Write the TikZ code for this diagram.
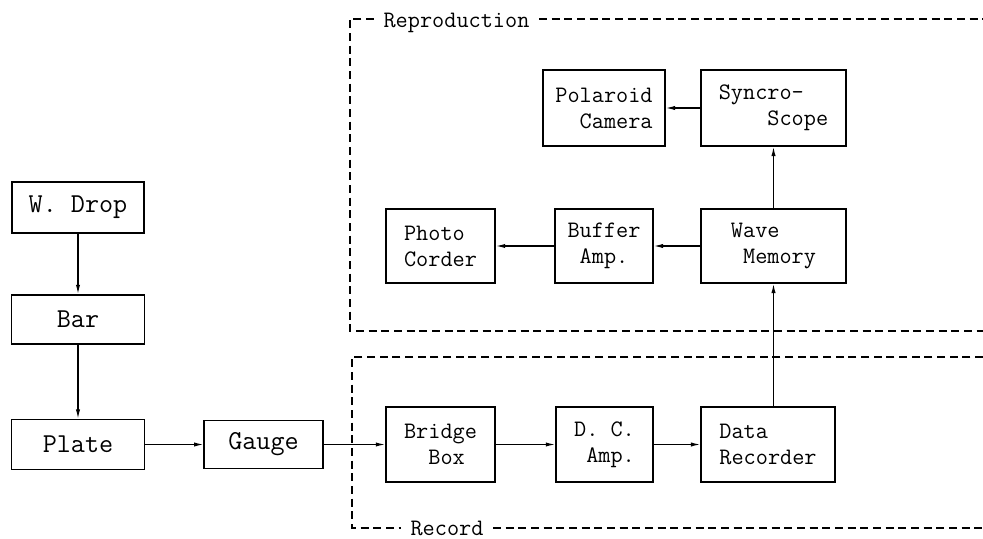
\documentclass[tikz,border=0pt]{standalone}
\usepackage{tikz}
\usetikzlibrary{arrows.meta}
\tikzset{
    block/.style = {draw, line width=1.1pt, inner sep=0pt, font=\ttfamily\fontsize{17.7}{19.5}\selectfont},
    bigblock/.style = {block, font=\ttfamily\fontsize{20.5}{22}\selectfont},
    conn/.style = {draw, line width=0.9pt, -{Latex[length=7pt,width=3.2pt]}},
    frame/.style = {draw, line width=1pt, dash pattern=on 6pt off 3.5pt},
    framelabel/.style = {inner sep=7pt, anchor=base, font=\ttfamily\fontsize{17.7}{19.5}\selectfont},
}

\begin{document}
\begin{tikzpicture}[x=0.75pt, y=-0.75pt]
            \useasboundingbox (0,0) rectangle (983,539);

            \node[bigblock, minimum width=99pt, minimum height=38pt] (wdrop) at (78, 207.5) {W. Drop};
            \node[bigblock, minimum width=100pt, minimum height=37pt] (bar) at (78, 319.5) {Bar};
            \node[bigblock, minimum width=100pt, minimum height=37.5pt] (plate) at (78, 444.5) {Plate};
            \node[bigblock, minimum width=89pt, minimum height=36pt] (gauge) at (263.5, 444.5) {Gauge};

            \node[block, align=left, minimum width=82pt, minimum height=56pt] (bridge) at (440.5, 444.5) {Bridge\\\hphantom{xx}Box};
            \node[block, align=right, minimum width=73pt, minimum height=56pt] (dcamp) at (604.5, 444.5) {D. C.\\Amp.};
            \node[block, align=left, minimum width=100.5pt, minimum height=56pt] (datarec) at (768, 444.5) {Data\\Recorder};

            \node[block, align=left, minimum width=82pt, minimum height=55.5pt] (photo) at (440.5, 246) {Photo\\Corder};
            \node[block, align=center, minimum width=73.5pt, minimum height=55.5pt] (buffer) at (604, 246) {Buffer\\Amp.};
            \node[block, align=left, minimum width=109pt, minimum height=55.5pt] (wave) at (773.5, 246) {Wave\\\hphantom{x}Memory};
            \node[block, align=right, minimum width=91.5pt, minimum height=57pt] (polaroid) at (604, 108) {Polaroid\\Camera};
            \node[block, align=left, minimum width=109pt, minimum height=57pt] (syncro) at (773.5, 108) {Syncro-\\\hphantom{xxxx}Scope};

            \node[framelabel] (repro) at (456.5, 27) {Reproduction};
            \coordinate (rtl) at (350, 19);
            \coordinate (rtr) at (983, 19);
            \coordinate (rbl) at (350, 331);
            \coordinate (rbr) at (983, 331);
            \draw[frame] (repro.west |- rtl) -- (rtl) -- (rbl) -- (rbr);
            \draw[frame] (repro.east |- rtr) -- (rtr);

            \node[framelabel] (rec) at (447, 535) {Record};
            \coordinate (ctl) at (352, 357);
            \coordinate (ctr) at (983, 357);
            \coordinate (cbl) at (352, 528);
            \coordinate (cbr) at (983, 528);
            \draw[frame] (ctr) -- (ctl) -- (cbl) -- (rec.west |- cbl);
            \draw[frame] (rec.east |- cbr) -- (cbr);

            \draw[conn] (wdrop) -- (bar);
            \draw[conn] (bar) -- (plate);
            \draw[conn] (plate) -- (gauge);
            \draw[conn] (gauge) -- (bridge);
            \draw[conn] (bridge) -- (dcamp);
            \draw[conn] (dcamp) -- (datarec);
            \draw[conn] (datarec.north -| wave) -- (wave.south);
            \draw[conn] (wave) -- (syncro);
            \draw[conn] (syncro) -- (polaroid);
            \draw[conn] (wave) -- (buffer);
            \draw[conn] (buffer) -- (photo);
        \end{tikzpicture}
\end{document}
